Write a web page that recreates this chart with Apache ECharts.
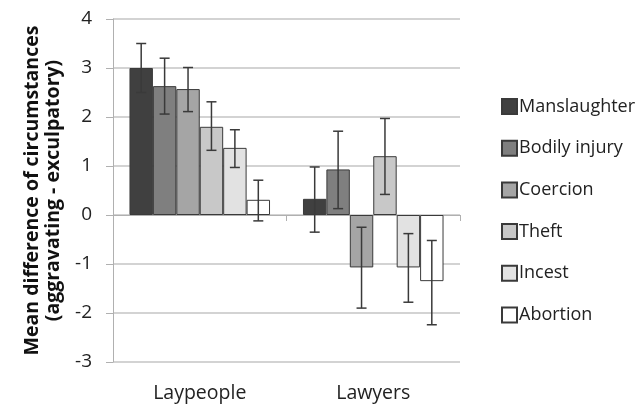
<!DOCTYPE html>
<html><head><meta charset="utf-8">
<script src="https://cdn.jsdelivr.net/npm/echarts@6/dist/echarts.min.js"></script>
<style>html,body{margin:0;padding:0;background:#fff}#c{width:644px;height:406px}</style>
</head><body><div id="c"></div>
<script>
const categories = ['Laypeople', 'Lawyers'];
const seriesNames = ['Manslaughter', 'Bodily injury', 'Coercion', 'Theft', 'Incest', 'Abortion'];
const yTicks = [-3, -2, -1, 0, 1, 2, 3, 4];
// means per series [Laypeople, Lawyers]
const manslaughter = [3.0, 0.33];
const bodilyInjury = [2.63, 0.93];
const coercion = [2.57, -1.07];
const theft = [1.8, 1.2];
const incest = [1.37, -1.07];
const abortion = [0.31, -1.35];
// error bar lower / upper ends
const manslaughterErr = [[2.5, 3.5], [-0.35, 0.98]];
const bodilyInjuryErr = [[2.06, 3.2], [0.13, 1.71]];
const coercionErr = [[2.11, 3.01], [-1.9, -0.25]];
const theftErr = [[1.32, 2.31], [0.42, 1.97]];
const incestErr = [[0.97, 1.74], [-1.78, -0.38]];
const abortionErr = [[-0.12, 0.71], [-2.24, -0.52]];

const means = [manslaughter, bodilyInjury, coercion, theft, incest, abortion];
const errs = [manslaughterErr, bodilyInjuryErr, coercionErr, theftErr, incestErr, abortionErr];
const colors = ['#404040', '#7f7f7f', '#a5a5a5', '#c8c8c8', '#e2e2e2', '#ffffff'];
const GAP = 0.19;
const FONT = '"Open Sans", sans-serif';

const errData = [];
errs.forEach((e, si) => e.forEach((pair, ci) => errData.push([ci, pair[0], pair[1], si])));

const series = seriesNames.map((n, i) => ({
  name: n, type: 'bar', data: means[i], barGap: '0%', barCategoryGap: (GAP * 100) + '%',
  itemStyle: { color: colors[i], borderColor: '#3a3a3a', borderWidth: 1 },
  animation: false
}));
series.push({
  type: 'custom', name: 'err', xAxisIndex: 0, data: errData, z: 10, animation: false,
  renderItem: function (params, api) {
    const ci = api.value(0), lo = api.value(1), hi = api.value(2), si = api.value(3);
    const cw = api.size([1, 0])[0];
    const gw = cw * (1 - GAP);
    const bw = gw / seriesNames.length;
    const c = api.coord([ci, 0]);
    const x = c[0] - gw / 2 + (si + 0.5) * bw;
    const y1 = api.coord([ci, lo])[1];
    const y2 = api.coord([ci, hi])[1];
    const hw = 5;
    const st = { stroke: '#3a3a3a', lineWidth: 1.5 };
    return { type: 'group', children: [
      { type: 'line', shape: { x1: x, y1: y1, x2: x, y2: y2 }, style: st },
      { type: 'line', shape: { x1: x - hw, y1: y1, x2: x + hw, y2: y1 }, style: st },
      { type: 'line', shape: { x1: x - hw, y1: y2, x2: x + hw, y2: y2 }, style: st }
    ]};
  }
});

const chart = echarts.init(document.getElementById('c'), null, { renderer: 'canvas' });
chart.setOption({
  animation: false,
  textStyle: { fontFamily: FONT },
  grid: { left: 113, right: 184, top: 19, bottom: 44 },
  legend: {
    orient: 'vertical', left: 496, top: 92, itemWidth: 15, itemHeight: 15, itemGap: 22.7,
    data: seriesNames, icon: 'rect',
    textStyle: { fontFamily: FONT, fontSize: 18, color: '#222', lineHeight: 19, padding: [0, 0, 0, -3] }
  },
  xAxis: [{
    type: 'category', data: categories, position: 'bottom',
    axisLine: { onZero: true, lineStyle: { color: '#b0b0b0', width: 1 } },
    axisTick: { show: true, length: 6, lineStyle: { color: '#b0b0b0' } },
    axisLabel: { show: false }
  }, {
    type: 'category', data: categories, position: 'bottom',
    axisLine: { show: false }, axisTick: { show: false },
    axisLabel: { show: true, fontFamily: FONT, fontSize: 19.5, color: '#222', margin: 21 }
  }],
  yAxis: {
    type: 'value', min: yTicks[0], max: yTicks[yTicks.length - 1], interval: 1,
    axisLine: { show: true, lineStyle: { color: '#b0b0b0' } },
    axisTick: { show: true, length: 7, lineStyle: { color: '#b0b0b0' } },
    axisLabel: { fontFamily: FONT, fontSize: 19, color: '#222', margin: 21 },
    splitLine: { lineStyle: { color: '#c4c4c4', width: 1.5 } },
    name: 'Mean difference of circumstances\n(aggravating - exculpatory)',
    nameLocation: 'middle', nameGap: 48,
    nameTextStyle: { fontFamily: FONT, fontSize: 19.5, fontWeight: 'bold', color: '#111', lineHeight: 21 }
  },
  series: series
});
</script></body></html>
